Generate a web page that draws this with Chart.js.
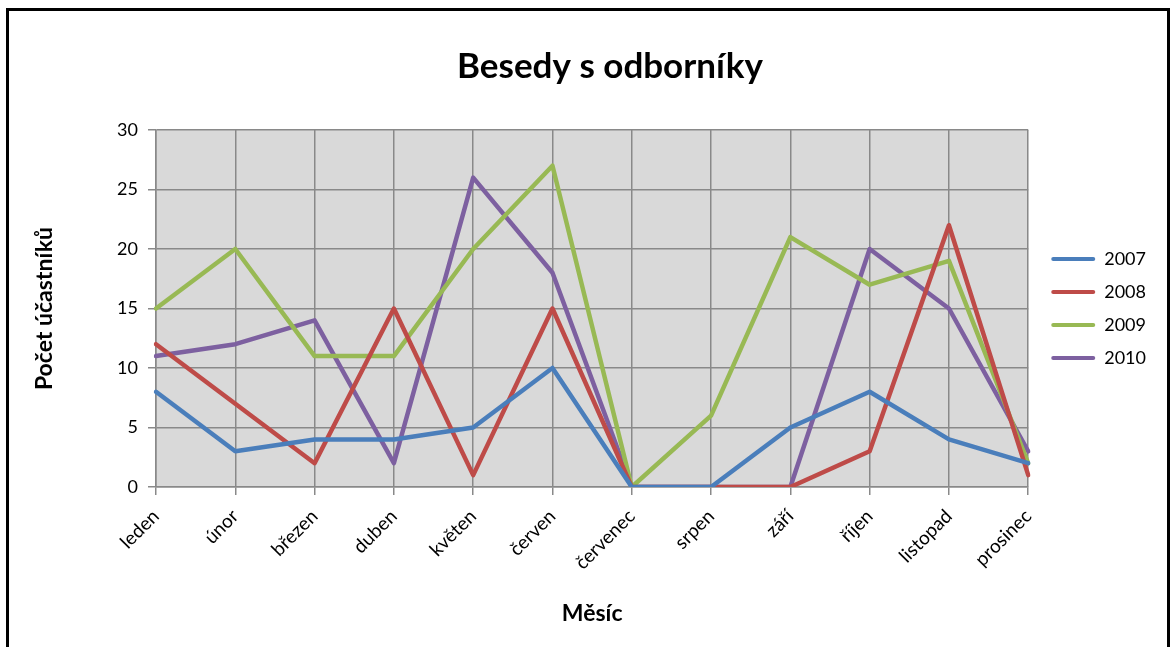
<!DOCTYPE html>
<html lang="cs">
<head>
<meta charset="utf-8">
<title>Besedy s odborníky</title>
<script src="https://cdn.jsdelivr.net/npm/chart.js@4/dist/chart.umd.min.js"></script>
<style>
  html, body { margin: 0; padding: 0; background: #fff; }
  canvas { display: block; }
</style>
</head>
<body>
<canvas id="besedyChart" width="1170" height="647"></canvas>
<script>
const months = ['leden', 'únor', 'březen', 'duben', 'květen', 'červen', 'červenec', 'srpen', 'září', 'říjen', 'listopad', 'prosinec'];
const years = ['2007', '2008', '2009', '2010'];
const values2007 = [8, 3, 4, 4, 5, 10, 0, 0, 5, 8, 4, 2];
const values2008 = [12, 7, 2, 15, 1, 15, 0, 0, 0, 3, 22, 1];
const values2009 = [15, 20, 11, 11, 20, 27, 0, 6, 21, 17, 19, 2];
const values2010 = [11, 12, 14, 2, 26, 18, 0, 0, 0, 20, 15, 3];
const yTicks = [0, 5, 10, 15, 20, 25, 30];

const colors = ['#4A7EBB', '#BE4B48', '#98B954', '#7D60A0'];
const gridColor = '#898989';

// white page, black frame, grey plot area
const backgroundPlugin = {
  id: 'background',
  beforeDraw(chart) {
    const { ctx, chartArea } = chart;
    ctx.save();
    ctx.fillStyle = '#fff';
    ctx.fillRect(0, 0, chart.width, chart.height);
    ctx.fillStyle = '#D9D9D9';
    ctx.fillRect(chartArea.left, chartArea.top, chartArea.right - chartArea.left, chartArea.bottom - chartArea.top);
    ctx.strokeStyle = '#000';
    ctx.lineWidth = 3;
    ctx.beginPath();
    ctx.moveTo(7.5, chart.height + 5);
    ctx.lineTo(7.5, 9.5);
    ctx.lineTo(1168.5, 9.5);
    ctx.lineTo(1168.5, chart.height + 5);
    ctx.stroke();
    ctx.restore();
  }
};

const titlePlugin = {
  id: 'mainTitle',
  afterDraw(chart) {
    const ctx = chart.ctx;
    ctx.save();
    ctx.font = 'bold 35px Lato';
    ctx.fillStyle = '#000';
    ctx.textAlign = 'center';
    ctx.textBaseline = 'alphabetic';
    ctx.fillText('Besedy s odborníky', 610, 78);
    ctx.restore();
  }
};

function buildChart() {
  const canvas = document.getElementById('besedyChart');
  if (!canvas) {
    console.error('canvas not found');
    return;
  }

  Chart.defaults.font.family = 'Lato';
  Chart.defaults.color = '#000';

  const series = [values2007, values2008, values2009, values2010];
  const data = {
    labels: months,
    datasets: years.map((year, i) => ({
      label: year,
      data: series[i],
      borderColor: colors[i],
      backgroundColor: colors[i],
      borderWidth: 4.5,
      borderJoinStyle: 'round',
      borderCapStyle: 'round',
      pointRadius: 0,
      tension: 0
    }))
  };

  const config = {
    type: 'line',
    data,
    options: {
      responsive: false,
      animation: false,
      layout: {
        padding: { left: 27, top: 130, right: 14, bottom: 16 }
      },
      plugins: {
        title: { display: false },
        tooltip: { enabled: false },
        legend: {
          position: 'right',
          fullSize: false,
          labels: {
            font: { size: 18 },
            boxWidth: 44,
            boxHeight: 4,
            padding: 15,
            generateLabels(chart) {
              return chart.data.datasets.map((ds, i) => ({
                text: ds.label,
                fillStyle: ds.borderColor,
                strokeStyle: ds.borderColor,
                lineWidth: 0,
                borderRadius: 2,
                datasetIndex: i
              }));
            }
          }
        }
      },
      scales: {
        x: {
          grid: { color: gridColor, lineWidth: 1.5, tickLength: 8 },
          border: { color: gridColor, width: 1.5 },
          ticks: {
            font: { size: 19 },
            minRotation: 45,
            maxRotation: 45,
            autoSkip: false,
            padding: 10
          },
          title: {
            display: true,
            text: 'Měsíc',
            font: { size: 23, weight: 'bold' },
            padding: 4
          },
          afterFit(scale) { scale.height = 144; }
        },
        y: {
          min: 0,
          max: 30,
          afterBuildTicks(scale) { scale.ticks = yTicks.map(v => ({ value: v })); },
          grid: { color: gridColor, lineWidth: 1.5, tickLength: 8 },
          border: { color: gridColor, width: 1.5 },
          ticks: { font: { size: 18 }, padding: 10 },
          title: {
            display: true,
            text: 'Počet účastníků',
            font: { size: 23, weight: 'bold' },
            padding: 4
          },
          afterFit(scale) { scale.width = 129; }
        },
        gap: {
          type: 'linear',
          position: 'right',
          grid: { display: false },
          border: { display: false },
          ticks: { display: false },
          afterFit(scale) { scale.width = 8; }
        }
      }
    },
    plugins: [backgroundPlugin, titlePlugin]
  };

  new Chart(canvas.getContext('2d'), config);
}

document.addEventListener('DOMContentLoaded', buildChart);
</script>
</body>
</html>
